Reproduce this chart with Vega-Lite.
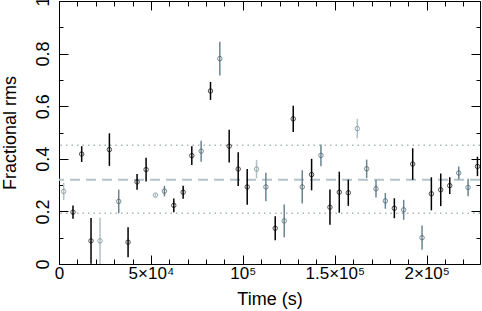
{
  "$schema": "https://vega.github.io/schema/vega-lite/v6.json",
  "autosize": {"type": "none"},
  "width": 421,
  "height": 263,
  "padding": {"left": 59, "top": 1, "right": 2, "bottom": 47},
  "config": {
    "view": {"stroke": "#000000", "strokeWidth": 1},
    "font": "Liberation Sans",
    "axis": {"domain": false, "grid": false, "tickColor": "#000000", "tickWidth": 1, "labelColor": "#000000", "titleColor": "#000000", "titleFontWeight": "normal"}
  },
  "datasets": {
    "pts": [
      {"t": 2540, "v": 0.276, "e": 0.033, "c": "L"},
      {"t": 7620, "v": 0.197, "e": 0.025, "c": "B"},
      {"t": 12340, "v": 0.418, "e": 0.030, "c": "B"},
      {"t": 17420, "v": 0.088, "e": 0.087, "c": "B"},
      {"t": 22330, "v": 0.088, "e": 0.088, "c": "L"},
      {"t": 27410, "v": 0.435, "e": 0.062, "c": "B"},
      {"t": 32490, "v": 0.238, "e": 0.045, "c": "M"},
      {"t": 37570, "v": 0.083, "e": 0.057, "c": "B"},
      {"t": 42470, "v": 0.312, "e": 0.030, "c": "B"},
      {"t": 47370, "v": 0.359, "e": 0.045, "c": "B"},
      {"t": 52460, "v": 0.262, "e": 0.006, "c": "L"},
      {"t": 57360, "v": 0.277, "e": 0.020, "c": "M"},
      {"t": 62440, "v": 0.223, "e": 0.026, "c": "B"},
      {"t": 67520, "v": 0.273, "e": 0.025, "c": "B"},
      {"t": 72240, "v": 0.412, "e": 0.036, "c": "B"},
      {"t": 77320, "v": 0.429, "e": 0.040, "c": "M"},
      {"t": 82410, "v": 0.658, "e": 0.034, "c": "B"},
      {"t": 87480, "v": 0.781, "e": 0.064, "c": "M"},
      {"t": 92570, "v": 0.448, "e": 0.062, "c": "B"},
      {"t": 97470, "v": 0.361, "e": 0.064, "c": "B"},
      {"t": 102370, "v": 0.293, "e": 0.068, "c": "B"},
      {"t": 107450, "v": 0.361, "e": 0.035, "c": "L"},
      {"t": 112530, "v": 0.293, "e": 0.054, "c": "M"},
      {"t": 117610, "v": 0.136, "e": 0.046, "c": "B"},
      {"t": 122510, "v": 0.164, "e": 0.062, "c": "M"},
      {"t": 127410, "v": 0.552, "e": 0.050, "c": "B"},
      {"t": 132310, "v": 0.293, "e": 0.063, "c": "M"},
      {"t": 137400, "v": 0.340, "e": 0.060, "c": "B"},
      {"t": 142480, "v": 0.413, "e": 0.041, "c": "M"},
      {"t": 147380, "v": 0.216, "e": 0.067, "c": "B"},
      {"t": 152460, "v": 0.273, "e": 0.078, "c": "B"},
      {"t": 157360, "v": 0.271, "e": 0.050, "c": "B"},
      {"t": 162260, "v": 0.515, "e": 0.037, "c": "L"},
      {"t": 167350, "v": 0.362, "e": 0.035, "c": "M"},
      {"t": 172430, "v": 0.286, "e": 0.033, "c": "M"},
      {"t": 177510, "v": 0.240, "e": 0.030, "c": "M"},
      {"t": 182410, "v": 0.212, "e": 0.038, "c": "B"},
      {"t": 187490, "v": 0.206, "e": 0.038, "c": "M"},
      {"t": 192390, "v": 0.380, "e": 0.060, "c": "B"},
      {"t": 197480, "v": 0.100, "e": 0.046, "c": "M"},
      {"t": 202550, "v": 0.267, "e": 0.063, "c": "B"},
      {"t": 207640, "v": 0.282, "e": 0.062, "c": "B"},
      {"t": 212540, "v": 0.298, "e": 0.032, "c": "B"},
      {"t": 217440, "v": 0.346, "e": 0.025, "c": "M"},
      {"t": 222520, "v": 0.291, "e": 0.033, "c": "M"},
      {"t": 227610, "v": 0.371, "e": 0.037, "c": "B"}
    ],
    "lines": [
      {"y": 0.3205, "kind": "mean"},
      {"y": 0.4515, "kind": "band"},
      {"y": 0.193, "kind": "band"}
    ]
  },
  "layer": [
    {
      "data": {"name": "lines"},
      "transform": [{"filter": "datum.kind === 'band'"}],
      "mark": {"type": "rule", "color": "#a9b8ba", "strokeWidth": 1.5, "strokeDash": [1.5, 4]},
      "encoding": {
        "y": {"field": "y", "type": "quantitative", "axis": null, "scale": {"domain": [0, 1], "nice": false, "zero": false}}
      }
    },
    {
      "data": {"name": "lines"},
      "transform": [{"filter": "datum.kind === 'mean'"}],
      "mark": {"type": "rule", "color": "#b6c3c6", "strokeWidth": 2, "strokeDash": [10, 6]},
      "encoding": {
        "y": {"field": "y", "type": "quantitative", "axis": null}
      }
    },
    {
      "data": {"name": "pts"},
      "transform": [
        {"calculate": "max(0, datum.v - datum.e)", "as": "lo"},
        {"calculate": "datum.v + datum.e", "as": "hi"}
      ],
      "mark": {"type": "rule", "strokeWidth": 1.5},
      "encoding": {
        "x": {
          "field": "t", "type": "quantitative",
          "scale": {"domain": [0, 229000], "nice": false, "zero": false},
          "axis": {
            "orient": "bottom",
            "title": "Time (s)",
            "titleFontSize": 18,
            "titlePadding": 5,
            "values": [0, 10000, 20000, 30000, 40000, 50000, 60000, 70000, 80000, 90000, 100000, 110000, 120000, 130000, 140000, 150000, 160000, 170000, 180000, 190000, 200000, 210000, 220000],
            "tickSize": {"condition": {"test": "datum.value % 50000 === 0", "value": -9}, "value": -5},
            "labelExpr": "datum.value === 0 ? '0' : datum.value === 50000 ? '5×10⁴' : datum.value === 100000 ? '10⁵' : datum.value === 150000 ? '1.5×10⁵' : datum.value === 200000 ? '2×10⁵' : ''",
            "labelFontSize": 17,
            "labelPadding": 10,
            "labelFlush": false,
            "labelOverlap": false
          }
        },
        "y": {
          "field": "lo", "type": "quantitative",
          "axis": {
            "orient": "left",
            "title": "Fractional rms",
            "titleFontSize": 18,
            "titlePadding": 10,
            "values": [0, 0.1, 0.2, 0.3, 0.4, 0.5, 0.6, 0.7, 0.8, 0.9, 1],
            "tickSize": {"condition": {"test": "round(datum.value * 10) % 2 === 0", "value": -9}, "value": -4},
            "labelExpr": "round(datum.value * 10) % 2 === 0 ? '' + round(datum.value * 10) / 10 : ''",
            "labelAngle": -90,
            "labelAlign": "center",
            "labelBaseline": "bottom",
            "labelFontSize": 18,
            "labelPadding": 16,
            "labelFlush": false,
            "labelOverlap": false
          }
        },
        "y2": {"field": "hi"},
        "color": {
          "field": "c", "type": "nominal", "legend": null,
          "scale": {"domain": ["B", "M", "L"], "range": ["#000000", "#6a8591", "#b3c1c5"]}
        }
      }
    },
    {
      "data": {"name": "pts"},
      "mark": {"type": "point", "shape": "circle", "filled": false, "size": 20, "strokeWidth": 1},
      "encoding": {
        "x": {
          "field": "t", "type": "quantitative",
          "axis": {
            "orient": "top", "title": null, "labels": false,
            "values": [0, 10000, 20000, 30000, 40000, 50000, 60000, 70000, 80000, 90000, 100000, 110000, 120000, 130000, 140000, 150000, 160000, 170000, 180000, 190000, 200000, 210000, 220000],
            "tickSize": {"condition": {"test": "datum.value % 50000 === 0", "value": -9}, "value": -5}
          }
        },
        "y": {
          "field": "v", "type": "quantitative",
          "axis": {
            "orient": "right", "title": null, "labels": false,
            "values": [0, 0.1, 0.2, 0.3, 0.4, 0.5, 0.6, 0.7, 0.8, 0.9, 1],
            "tickSize": {"condition": {"test": "round(datum.value * 10) % 2 === 0", "value": -9}, "value": -4}
          }
        },
        "color": {
          "field": "c", "type": "nominal", "legend": null,
          "scale": {"domain": ["B", "M", "L"], "range": ["#000000", "#3f5a66", "#6f8790"]}
        }
      }
    }
  ],
  "resolve": {"axis": {"x": "independent", "y": "independent"}, "scale": {"color": "independent"}}
}
